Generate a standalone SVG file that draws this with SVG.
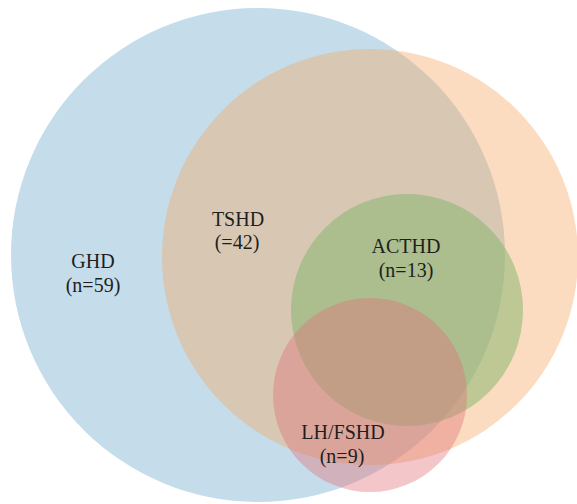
<svg xmlns="http://www.w3.org/2000/svg" width="577" height="504" viewBox="0 0 577 504">
<style>
.lbl{font-family:"Liberation Serif","Times New Roman",Tinos,"DejaVu Serif",serif;font-size:20px;fill:#1e1e1e;text-anchor:middle}
</style>
<rect width="577" height="504" fill="#ffffff"/>
<g id="GHD">
<circle cx="258" cy="255" r="247" fill="#c5dcea"/>
</g>
<g id="TSHD">
<circle cx="370" cy="257" r="208" fill="#f5a862" fill-opacity="0.4"/>
</g>
<g id="ACTHD">
<circle cx="407" cy="310" r="116" fill="#7fb36a" fill-opacity="0.5"/>
</g>
<g id="LHFSHD">
<circle cx="370" cy="395" r="97" fill="#e07078" fill-opacity="0.4"/>
</g>
<g id="labels">
<text class="lbl" x="93" y="268">GHD</text>
<text class="lbl" x="93" y="292">(n=59)</text>
<text class="lbl" x="238" y="226">TSHD</text>
<text class="lbl" x="237" y="249">(=42)</text>
<text class="lbl" x="406" y="253">ACTHD</text>
<text class="lbl" x="406" y="277">(n=13)</text>
<text class="lbl" x="343" y="439">LH/FSHD</text>
<text class="lbl" x="342" y="463">(n=9)</text>
</g>
</svg>
